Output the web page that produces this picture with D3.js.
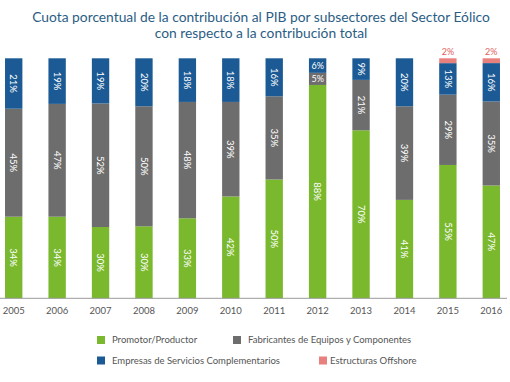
<!DOCTYPE html>
<html><head><meta charset="utf-8">
<script src="https://cdn.jsdelivr.net/npm/d3@7"></script>
<style>
body{margin:0;background:#fff;}
svg{display:block;font-family:Lato, "Open Sans", sans-serif;}
</style></head>
<body>
<svg id="chart" width="510" height="382"></svg>
<script>
const years = ["2005","2006","2007","2008","2009","2010","2011","2012","2013","2014","2015","2016"];
const promotor = [34,34,30,30,33,42,50,88,70,41,55,47];
const fabricantes = [45,47,52,50,48,39,35,5,21,39,29,35];
const servicios = [21,19,19,20,18,18,16,6,9,20,13,16];
const offshore = [0,0,0,0,0,0,0,0,0,0,2,2];
const seriesNames = ["Promotor/Productor","Fabricantes de Equipos y Componentes","Empresas de Servicios Complementarios","Estructuras Offshore"];
const seriesKeys = ["promotor","fabricantes","servicios","offshore"];
const colors = ["#7ab82e","#6e6d6d","#1b5a94","#e8807e"];
const titleLines = ["Cuota porcentual de la contribución al PIB por subsectores del Sector Eólico","con respecto a la contribución total"];

const rows = years.map((y,i)=>({year:y,promotor:promotor[i],fabricantes:fabricantes[i],servicios:servicios[i],offshore:offshore[i]}));
const stack = d3.stack().keys(seriesKeys).offset(d3.stackOffsetExpand);
const stacked = stack(rows);

const svg = d3.select("#chart");
const x = d3.scaleBand().domain(years).range([-8,513]).paddingInner(0.6).paddingOuter(0.3);
const y = d3.scaleLinear().domain([0,1]).range([298.3,58.3]);

// title
svg.append("g").selectAll("text").data(titleLines).join("text")
  .attr("x",261).attr("y",(d,i)=>21.5+i*16.5)
  .attr("text-anchor","middle").attr("fill","#2b5d84")
  .attr("font-size",13.8).text(d=>d);

// bars
const g = svg.append("g");
stacked.forEach((s,si)=>{
  g.append("g").attr("fill",colors[si]).selectAll("rect").data(s).join("rect")
   .attr("x",d=>x(d.data.year)).attr("width",x.bandwidth())
   .attr("y",d=>y(d[1])).attr("height",d=>Math.max(0,y(d[0])-y(d[1])));
});

// labels
stacked.forEach((s,si)=>{
  const key = seriesKeys[si];
  s.forEach(d=>{
    const v = d.data[key];
    if(!v) return;
    const cx = x(d.data.year)+x.bandwidth()/2;
    const cy = (y(d[0])+y(d[1]))/2;
    if(key==="offshore"){
      g.append("text").attr("x",cx).attr("y",y(d[1])-3)
        .attr("text-anchor","middle").attr("fill","#e0605c").attr("font-size",9).text(v+"%");
    } else if(v<8){
      g.append("text").attr("x",cx).attr("y",cy).attr("dy","0.35em")
        .attr("text-anchor","middle").attr("fill","#fff").attr("font-size",9).text(v+"%");
    } else {
      g.append("text").attr("transform",`translate(${cx},${cy}) rotate(90)`).attr("dy","0.35em")
        .attr("text-anchor","middle").attr("fill","#fff").attr("font-size",9.5).text(v+"%");
    }
  });
});

// axis
const ax = svg.append("g").attr("transform","translate(0,298.3)")
  .call(d3.axisBottom(x).tickSize(0).tickPadding(9));
ax.select(".domain").attr("d","M0,0H507").attr("stroke","#9a9a9a");
ax.selectAll("text").attr("fill","#555").attr("font-size",9.5).attr("font-family","Lato, sans-serif");

// legend
const legPos = [[97,340],[233,340],[97,360.5],[319,360.5]];
const leg = svg.append("g").selectAll("g").data(seriesNames).join("g")
  .attr("transform",(d,i)=>`translate(${legPos[i][0]},${legPos[i][1]})`);
leg.append("rect").attr("x",0).attr("y",-4).attr("width",8).attr("height",8).attr("fill",(d,i)=>colors[i]);
leg.append("text").attr("x",(d,i)=>i===3?11:15).attr("y",0).attr("dy","0.35em")
  .attr("fill","#555").attr("font-size",9.5).text(d=>d);
</script>
</body></html>
